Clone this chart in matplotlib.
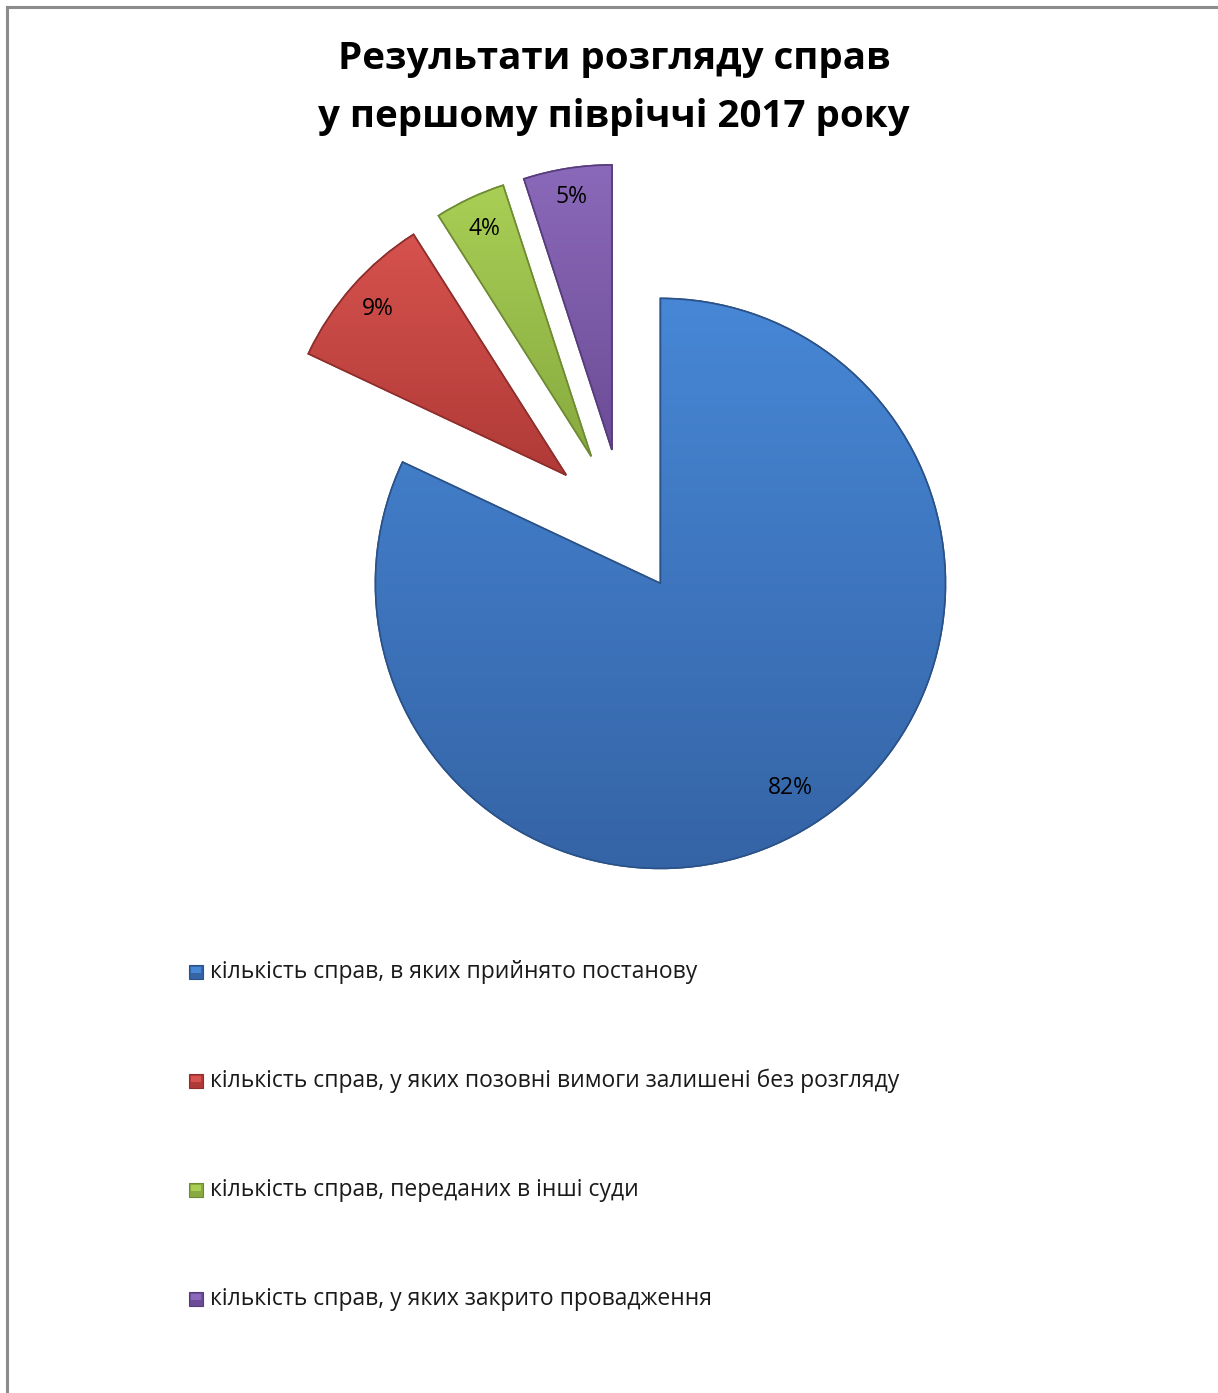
import matplotlib
matplotlib.use('Agg')
import matplotlib.pyplot as plt
import numpy as np
from matplotlib.colors import LinearSegmentedColormap
from matplotlib.lines import Line2D
from matplotlib.patches import Rectangle, PathPatch

plt.rcParams['font.family'] = ['Open Sans', 'DejaVu Sans']

# data
title = 'Результати розгляду справ\nу першому півріччі 2017 року'
categories = ['кількість справ, в яких прийнято постанову',
              'кількість справ, у яких позовні вимоги залишені без розгляду',
              'кількість справ, переданих в інші суди',
              'кількість справ, у яких закрито провадження']
shares = [82, 9, 4, 5]
pct_labels = ['82%', '9%', '4%', '5%']

# top / bottom colours for the bevel-like gradient
top_cols = ['#4787D6', '#D6524E', '#A9CF55', '#8B69BA']
bot_cols = ['#3564A6', '#B03A37', '#88AA40', '#6C4C96']
edge_cols = ['#2B5288', '#8E2E2C', '#6E8A33', '#563C7A']

W, H = 1218, 1393
fig = plt.figure(figsize=(W / 100, H / 100), dpi=100)
ax = fig.add_axes([0, 0, 1, 1])

center = (624, H - 526)
R = 285
explode = [68, 77, 77, 77]

wedges, _ = ax.pie(shares, startangle=90, counterclock=False, radius=R,
                   center=center, explode=explode,
                   wedgeprops=dict(linewidth=1.2))
ax.set_xlim(0, W)
ax.set_ylim(0, H)
ax.set_aspect('equal')
ax.axis('off')

# gradient fill, clipped to each wedge (light on top, darker below)
grad = np.linspace(0, 1, 256).reshape(-1, 1)
for w, tc, bc, ec in zip(wedges, top_cols, bot_cols, edge_cols):
    w.set_facecolor(bc)
    w.set_edgecolor(ec)
    bb = w.get_path().get_extents(w.get_patch_transform())
    cmap = LinearSegmentedColormap.from_list('g', [bc, tc])
    im = ax.imshow(grad, cmap=cmap, aspect='auto', origin='lower',
                   extent=[bb.x0, bb.x1, bb.y0, bb.y1], zorder=w.get_zorder() + 0.1,
                   interpolation='bilinear')
    im.set_clip_path(w)
    ax.add_patch(PathPatch(w.get_path(), transform=w.get_transform(),
                           fill=False, edgecolor=ec, lw=1.2,
                           zorder=w.get_zorder() + 0.2))

# percentage labels
lab_r = [0.85, 0.88, 0.88, 0.9]
for w, txt, lr in zip(wedges, pct_labels, lab_r):
    th = np.deg2rad((w.theta1 + w.theta2) / 2)
    cx, cy = w.center
    ax.text(cx + lr * R * np.cos(th), cy + lr * R * np.sin(th), txt,
            ha='center', va='center', fontsize=16.5, color='black', zorder=10)

# title
fig.text(614 / W, 1 - 88 / H, title, ha='center', va='center', fontsize=27.7,
         fontweight='bold', linespacing=1.72)

# legend
leg_y = [972, 1081, 1190, 1299]
for yy, lab, tc, bc, ec in zip(leg_y, categories, top_cols, bot_cols, edge_cols):
    y0 = H - yy
    ax.add_patch(Rectangle((189, y0 - 7), 14, 14, facecolor=bc, edgecolor=ec,
                           lw=0.8, zorder=5))
    ax.add_patch(Rectangle((191, y0 - 1), 10, 6, facecolor=tc, edgecolor='none',
                           zorder=6))
    ax.text(210, y0, lab, ha='left', va='center', fontsize=16.5, color='#1a1a1a')

# chart frame (only top and left edges visible)
fig.add_artist(Line2D([6.5 / W, 6.5 / W], [0, 1 - 6.5 / H], color='#8c8c8c', lw=2.2,
                      transform=fig.transFigure))
fig.add_artist(Line2D([6.5 / W, 1], [1 - 6.5 / H, 1 - 6.5 / H], color='#8c8c8c', lw=2.2,
                      transform=fig.transFigure))

fig.savefig('out.png', dpi=100, facecolor='white')
